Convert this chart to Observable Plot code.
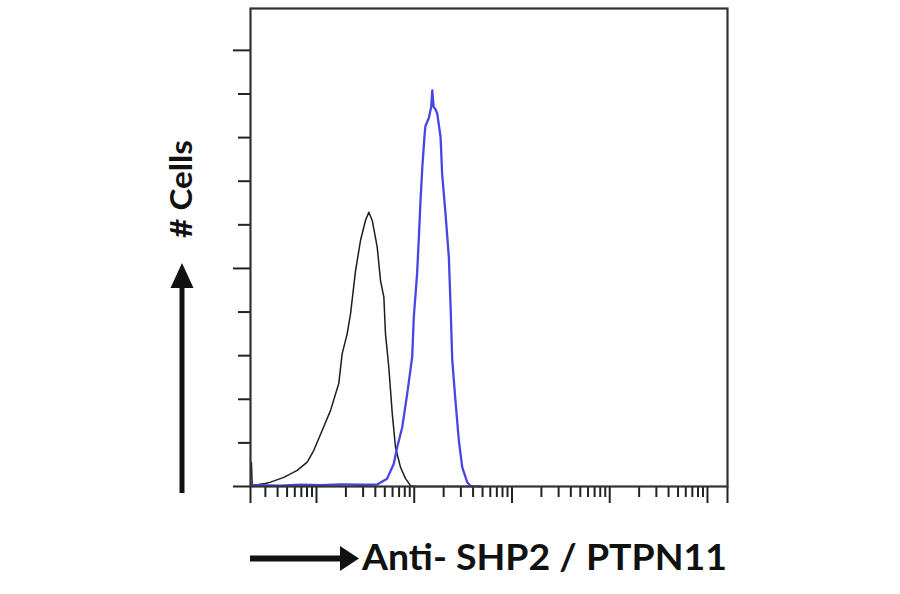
<!DOCTYPE html>
<html>
<head>
<meta charset="utf-8">
<script src="https://cdn.jsdelivr.net/npm/d3@7"></script>
<script src="https://cdn.jsdelivr.net/npm/@observablehq/plot@0.6"></script>
<style>
  html, body { margin: 0; padding: 0; background: #fff; }
  #chart { width: 900px; height: 594px; }
</style>
</head>
<body>
<div id="chart"></div>
<script>
// ---- data (x = fluorescence intensity, log scale; y = cell count) ----
const isotypeX = [2.12, 2.16, 2.2, 2.55, 3.01, 3.39, 4.63, 6.35, 8.04, 9.39, 11.4, 13.9, 16.9, 18.3, 20.6, 22.3, 25.1, 28.2, 31.7, 34.3, 37.2, 41.8, 45.2, 48.9, 50.8, 54.9, 59.6, 64.3, 72.4, 81.5, 91.6, 103, 400];
const isotypeY = [5.5, 5.5, 0.3, 0.46, 0.7, 1.0, 2.1, 3.7, 5.6, 8.3, 12.8, 17.4, 23.6, 30.4, 35.0, 39.6, 49.5, 56.4, 61.0, 62.9, 61.0, 54.9, 47.2, 43.4, 35.0, 27.4, 16.7, 9.0, 4.4, 1.8, 0.2, 0, 0];

const shp2X = [2.21, 4.28, 6.87, 11.0, 17.6, 28.2, 41.8, 52.8, 61.8, 66.9, 75.4, 84.8, 95.3, 99.0, 107, 112, 116, 121, 127, 130, 141, 149, 153, 158, 165, 172, 186, 193, 209, 226, 235, 245, 264, 286, 310, 348, 377, 477];
const shp2Y = [0.3, 0.2, 0.4, 0.3, 0.5, 0.4, 0.46, 1.8, 5.2, 9.0, 13.6, 21.3, 29.7, 38.8, 48.8, 58.0, 65.6, 73.2, 80.0, 82.6, 84.5, 87.0, 90.8, 87.0, 86.5, 85.5, 80.1, 71.7, 62.5, 52.6, 41.9, 28.9, 19.7, 10.6, 4.4, 1.0, 0.1, 0];

const xDomain = [2.113, 160300];
const xMajorTicks = [2.113, 10, 100, 1000, 10000, 100000, 160300];
const xMinorTicks = [3, 4, 5, 6, 7, 8, 9,
  20, 30, 40, 50, 60, 70, 80, 90,
  200, 300, 400, 500, 600, 700, 800, 900,
  2000, 3000, 4000, 5000, 6000, 7000, 8000, 9000,
  20000, 30000, 40000, 50000, 60000, 70000, 80000, 90000];
const yDomain = [0, 109.6];
const yMajorTicks = [0, 50, 100];
const yMinorTicks = [10, 20, 30, 40, 60, 70, 80, 90];

const xTitle = "Anti- SHP2 / PTPN11";
const yTitle = "# Cells";

const isotype = isotypeX.map((x, i) => ({x, y: isotypeY[i]}));
const shp2 = shp2X.map((x, i) => ({x, y: shp2Y[i]}));

const axisColor = "#222";

const chart = Plot.plot({
  width: 900,
  height: 594,
  marginLeft: 250,
  marginRight: 173,
  marginTop: 8,
  marginBottom: 108,
  style: {background: "#fff", overflow: "visible"},
  x: {type: "log", domain: xDomain},
  y: {domain: yDomain},
  marks: [
    Plot.axisX(xMinorTicks, {tickSize: 11, tickFormat: () => "", stroke: axisColor, strokeWidth: 2, strokeOpacity: 1, label: null}),
    Plot.axisX(xMajorTicks, {tickSize: 17, tickFormat: () => "", stroke: axisColor, strokeWidth: 2.2, strokeOpacity: 1, label: null}),
    Plot.axisY(yMinorTicks, {tickSize: 12, tickFormat: () => "", stroke: axisColor, strokeWidth: 2, strokeOpacity: 1, label: null}),
    Plot.axisY(yMajorTicks, {tickSize: 17, tickFormat: () => "", stroke: axisColor, strokeWidth: 2.2, strokeOpacity: 1, label: null}),
    Plot.line(isotype, {x: "x", y: "y", stroke: "#1e1e1e", strokeWidth: 1.5}),
    Plot.line(shp2, {x: "x", y: "y", stroke: "#4646e4", strokeWidth: 2.3}),
    Plot.frame({stroke: "#333", strokeWidth: 2.2})
  ]
});

document.getElementById("chart").appendChild(chart);

const svg = d3.select(chart);
// make the tick marks bold like the reference
svg.selectAll("g[aria-label$='tick']")
  .attr("stroke", axisColor)
  .attr("stroke-width", 2)
  .attr("stroke-opacity", 1);
svg.selectAll("g[aria-label$='tick'] path")
  .attr("stroke-width", 2);

// axis titles with arrows
const g = svg.append("g").attr("fill", "#111").attr("text-anchor", "start");

// y title arrow
g.append("rect").attr("x", 179.5).attr("y", 284).attr("width", 5).attr("height", 209);
g.append("polygon").attr("points", "170.5,288 193.5,288 182,263");
g.append("text")
  .attr("transform", "translate(192,189) rotate(-90)")
  .attr("text-anchor", "middle")
  .attr("font-family", "Lato, 'Liberation Sans', sans-serif")
  .attr("font-weight", "bold")
  .attr("font-size", 30)
  .attr("textLength", 98)
  .attr("lengthAdjust", "spacingAndGlyphs")
  .text(yTitle);

// x title arrow
g.append("rect").attr("x", 250).attr("y", 555.5).attr("width", 92).attr("height", 6);
g.append("polygon").attr("points", "340,546 340,571 359,558.5");
g.append("text")
  .attr("x", 362)
  .attr("y", 570)
  .attr("text-anchor", "start")
  .attr("font-family", "Lato, 'Liberation Sans', sans-serif")
  .attr("font-weight", "bold")
  .attr("font-size", 37)
  .attr("textLength", 365)
  .attr("lengthAdjust", "spacingAndGlyphs")
  .text(xTitle);
</script>
</body>
</html>
